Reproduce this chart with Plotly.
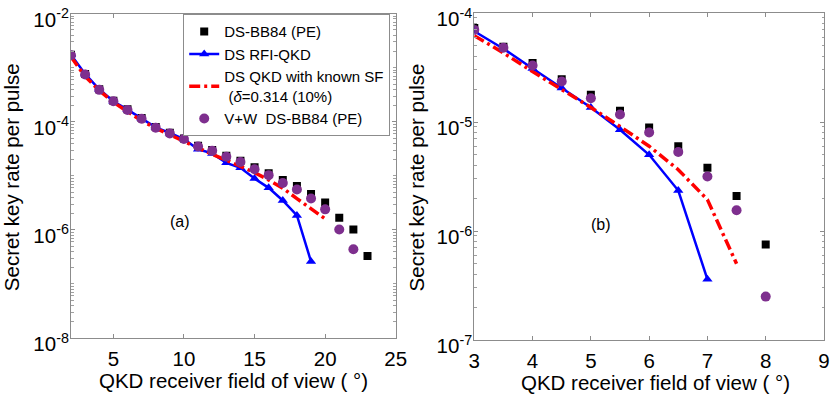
import plotly.graph_objects as go

# ---------- data: panel (a) ----------
a_x_bb84 = list(range(2, 24))
a_y_bb84 = [1.74e-3, 7.7e-4, 4.0e-4, 2.45e-4, 1.7e-4, 1.17e-4, 8.0e-5, 6.3e-5, 4.9e-5,
            3.6e-5, 3.0e-5, 2.35e-5, 1.9e-5, 1.44e-5, 1.12e-5, 8.4e-6, 6.5e-6, 4.6e-6,
            3.2e-6, 1.67e-6, 1.02e-6, 3.3e-7]
a_x_rfi = list(range(2, 20))
a_y_rfi = [1.74e-3, 7.7e-4, 4.0e-4, 2.4e-4, 1.68e-4, 1.15e-4, 7.9e-5, 6.2e-5, 4.8e-5,
           3.1e-5, 2.6e-5, 1.74e-5, 1.41e-5, 8.9e-6, 6.0e-6, 3.5e-6, 1.85e-6, 2.6e-7]
a_x_sf = list(range(2, 21))
a_y_sf = [1.6e-3, 6.9e-4, 3.8e-4, 2.3e-4, 1.55e-4, 1.05e-4, 7.6e-5, 5.7e-5, 4.4e-5,
          3.25e-5, 2.5e-5, 1.95e-5, 1.5e-5, 1.15e-5, 8.4e-6, 5.9e-6, 3.8e-6, 2.5e-6, 1.6e-6]
a_x_vw = list(range(2, 23))
a_y_vw = [1.7e-3, 7.5e-4, 3.9e-4, 2.4e-4, 1.65e-4, 1.14e-4, 7.8e-5, 6.1e-5, 4.8e-5,
          3.5e-5, 2.9e-5, 2.25e-5, 1.8e-5, 1.32e-5, 1.03e-5, 7.4e-6, 5.6e-6, 3.8e-6,
          2.4e-6, 1.02e-6, 4.4e-7]

# ---------- data: panel (b) ----------
b_x_bb84 = [3, 3.5, 4, 4.5, 5, 5.5, 6, 6.5, 7, 7.5, 8]
b_y_bb84 = [7.3e-5, 4.9e-5, 3.47e-5, 2.47e-5, 1.78e-5, 1.27e-5, 8.9e-6, 6.0e-6, 3.8e-6, 2.1e-6, 7.5e-7]
b_x_rfi = [3, 3.5, 4, 4.5, 5, 5.5, 6, 6.5, 7]
b_y_rfi = [6.8e-5, 4.7e-5, 3.1e-5, 2.05e-5, 1.36e-5, 8.5e-6, 5.0e-6, 2.35e-6, 3.6e-7]
b_x_sf = [3, 3.5, 4, 4.5, 5, 5.5, 6, 6.5, 7, 7.5]
b_y_sf = [6.2e-5, 4.3e-5, 2.9e-5, 2.0e-5, 1.36e-5, 9.1e-6, 6.0e-6, 3.65e-6, 1.94e-6, 5.0e-7]
b_x_vw = [3, 3.5, 4, 4.5, 5, 5.5, 6, 6.5, 7, 7.5, 8]
b_y_vw = [7.0e-5, 4.8e-5, 3.3e-5, 2.35e-5, 1.65e-5, 1.17e-5, 8.0e-6, 5.3e-6, 3.16e-6, 1.55e-6, 2.5e-7]

names = ["DS-BB84 (PE)", "DS RFI-QKD",
         "DS QKD with known SF<br> (<i>δ</i>=0.314 (10%)", "V+W  DS-BB84 (PE)"]

a_yticks = [1e-8, 1e-6, 1e-4, 1e-2]
a_yticktext = ["10<sup>-8</sup>", "10<sup>-6</sup>", "10<sup>-4</sup>", "10<sup>-2</sup>"]
b_yticks = [1e-7, 1e-6, 1e-5, 1e-4]
b_yticktext = ["10<sup>-7</sup>", "10<sup>-6</sup>", "10<sup>-5</sup>", "10<sup>-4</sup>"]
a_xticks = [5, 10, 15, 20, 25]
b_xticks = [3, 4, 5, 6, 7, 8, 9]

x_title = "QKD receiver field of view ( °)"
y_title = "Secret key rate per pulse"

BLUE = "#0000FF"
RED = "#FF0000"
PURPLE = "#7E2F8E"
FONT = "Liberation Sans, Arial, sans-serif"

fig = go.Figure()

def add_panel(xa, ya, xb, yb, xs, ys, xv, yv, xref, yref, show):
    fig.add_trace(go.Scatter(x=xa, y=ya, mode="markers", name=names[0], showlegend=show,
                             marker=dict(symbol="square", size=8, color="black"),
                             xaxis=xref, yaxis=yref))
    fig.add_trace(go.Scatter(x=xb, y=yb, mode="lines+markers", name=names[1], showlegend=show,
                             line=dict(color=BLUE, width=2.5),
                             marker=dict(symbol="triangle-up", size=9, color=BLUE),
                             xaxis=xref, yaxis=yref))
    fig.add_trace(go.Scatter(x=xs, y=ys, mode="lines", name=names[2], showlegend=show,
                             line=dict(color=RED, width=3.5, dash="11px,4px,3px,4px"),
                             xaxis=xref, yaxis=yref))
    fig.add_trace(go.Scatter(x=xv, y=yv, mode="markers", name=names[3], showlegend=show,
                             marker=dict(symbol="circle", size=10, color=PURPLE),
                             xaxis=xref, yaxis=yref))

add_panel(a_x_bb84, a_y_bb84, a_x_rfi, a_y_rfi, a_x_sf, a_y_sf, a_x_vw, a_y_vw, "x", "y", True)
add_panel(b_x_bb84, b_y_bb84, b_x_rfi, b_y_rfi, b_x_sf, b_y_sf, b_x_vw, b_y_vw, "x2", "y2", False)

axcommon = dict(showline=True, linecolor="#8c8c8c", linewidth=1, mirror="allticks",
                ticks="inside", ticklen=4, tickcolor="#8c8c8c", showgrid=False, zeroline=False,
                automargin=False, ticklabeloverflow="allow",
                tickfont=dict(size=20.5, color="black", family=FONT))
xcommon = dict(ticklabelstandoff=2, **axcommon)
ycommon = dict(ticklabelstandoff=-3, ticklabelshift=6, **axcommon)
minor_log = dict(ticks="inside", ticklen=2.5, tickcolor="#a0a0a0", dtick="D1", showgrid=False)

W, H = 831, 397
ML, MT = 70.7, 13.3
MR, MB = W - 824.3, H - 340
PW, PH = W - ML - MR, H - MT - MB

def fx(px):
    return (px - ML) / PW

def fy(py):
    return 1 - (py - MT) / PH

tfont = dict(size=20.5, color="black", family=FONT)

fig.update_layout(
    width=W, height=H,
    margin=dict(l=ML, r=MR, t=MT, b=MB, autoexpand=False),
    paper_bgcolor="white", plot_bgcolor="white",
    font=dict(family=FONT, color="black"),
    xaxis=dict(domain=[0, fx(395.7)], range=[2, 25], tickvals=a_xticks, anchor="y", **xcommon),
    yaxis=dict(domain=[fy(338), fy(14)], type="log", range=[-8, -2],
               tickvals=a_yticks, ticktext=a_yticktext, anchor="x",
               minor=minor_log, **ycommon),
    xaxis2=dict(domain=[fx(474.3), 1], range=[3, 9], tickvals=b_xticks, anchor="y2", **xcommon),
    yaxis2=dict(domain=[0, 1], type="log", range=[-7, -4], tickvals=b_yticks,
                ticktext=b_yticktext, anchor="x2", minor=minor_log, **ycommon),
    legend=dict(x=fx(183), y=fy(14.5), xanchor="left", yanchor="top", itemwidth=30,
                bgcolor="white", bordercolor="#8c8c8c", borderwidth=1,
                font=dict(size=15, color="black", family=FONT), tracegroupgap=0),
    annotations=[
        dict(text="(a)", x=9.7, y=-5.85, xref="x", yref="y", showarrow=False,
             font=dict(size=16, color="black", family=FONT)),
        dict(text="(b)", x=5.18, y=-5.94, xref="x2", yref="y2", showarrow=False,
             font=dict(size=16, color="black", family=FONT)),
        dict(text=y_title, x=fx(12), y=fy(177), xref="paper", yref="paper", textangle=-90,
             showarrow=False, font=tfont, xanchor="center", yanchor="middle"),
        dict(text=y_title, x=fx(416), y=fy(177.5), xref="paper", yref="paper", textangle=-90,
             showarrow=False, font=tfont, xanchor="center", yanchor="middle"),
        dict(text=x_title, x=fx(233.5), y=fy(380), xref="paper", yref="paper",
             showarrow=False, font=tfont, xanchor="center", yanchor="middle"),
        dict(text=x_title, x=fx(656), y=fy(382), xref="paper", yref="paper",
             showarrow=False, font=tfont, xanchor="center", yanchor="middle"),
    ],
)

# remove the browser's default 8px page margin so the figure fills the window exactly
fig.write_html("out.html", config={"displayModeBar": False},
               post_script="document.body.style.margin='0';")
